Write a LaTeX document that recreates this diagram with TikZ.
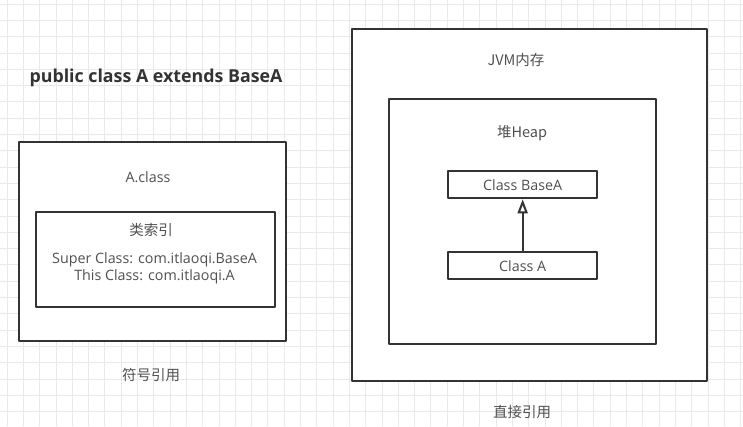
\documentclass[tikz,border=0pt]{standalone}
\usepackage{fontspec}
\setmainfont{Open Sans}
\newfontfamily\cjk{Noto Sans CJK SC}
\usetikzlibrary{arrows.meta}
\definecolor{ink}{HTML}{333333}
\definecolor{txt}{HTML}{505050}
\definecolor{gridc}{HTML}{E9E9E9}
\tikzset{
  box/.style={draw=ink,line width=2.3pt,inner sep=0pt,anchor=north west},
  lbl/.style={text=txt,font=\fontsize{14.3}{17}\selectfont,inner sep=0pt},
  zh/.style={lbl,font=\cjk\fontsize{14.5}{17}\selectfont},
  inherit/.style={-{Triangle[open,length=14pt,width=10pt,line width=2pt]},draw=ink,line width=2.2pt}
}
\begin{document}
\begin{tikzpicture}[x=1pt,y=-1pt,line cap=round,line join=round]
  \useasboundingbox[fill=white] (0,0) rectangle (743,426);
  % background grid
  \foreach \gx in {0,...,45} \draw[gridc,line width=0.7pt] (7+16.3*\gx,0) -- (7+16.3*\gx,426);
  \foreach \gy in {0,...,26} \draw[gridc,line width=0.7pt] (0,4+16.3*\gy) -- (743,4+16.3*\gy);
  % left side: class file
  \node[text=ink,font=\fontsize{17.8}{20}\selectfont\bfseries,inner sep=0pt] (title) at (156,78) {public class A extends BaseA};
  \node[box,fill=white,minimum width=267pt,minimum height=199pt] (aclass) at (18,141) {};
  \node[lbl] (aclasslbl) at (148,177) {A.class};
  \node[box,minimum width=239pt,minimum height=95pt] (index) at (35,211) {};
  \node[zh] (indexlbl) at (151,230) {类索引};
  \node[lbl,align=center,font=\fontsize{14.3}{17}\selectfont] (indexbody) at (154.5,268)
    {Super Class: com.itlaoqi.BaseA\\This Class: com.itlaoqi.A};
  \node[zh] (symref) at (151,375) {符号引用};
  % right side: jvm memory
  \node[box,fill=white,minimum width=355pt,minimum height=352pt] (jvm) at (351,28) {};
  \node[zh] (jvmlbl) at (516,60) {JVM内存};
  \node[box,minimum width=267pt,minimum height=245pt] (heap) at (388,98) {};
  \node[zh] (heaplbl) at (522,133) {堆Heap};
  \node[box,fill=white,minimum width=149pt,minimum height=27pt] (base) at (447,170) {};
  \node[lbl] at (base.center) {Class BaseA};
  \node[box,fill=white,minimum width=149pt,minimum height=27pt] (child) at (447,251) {};
  \node[lbl] at (child.center) {Class A};
  \draw[inherit] (child.north) -- (base.south);
  \node[zh] (directref) at (522,412) {直接引用};
\end{tikzpicture}
\end{document}
